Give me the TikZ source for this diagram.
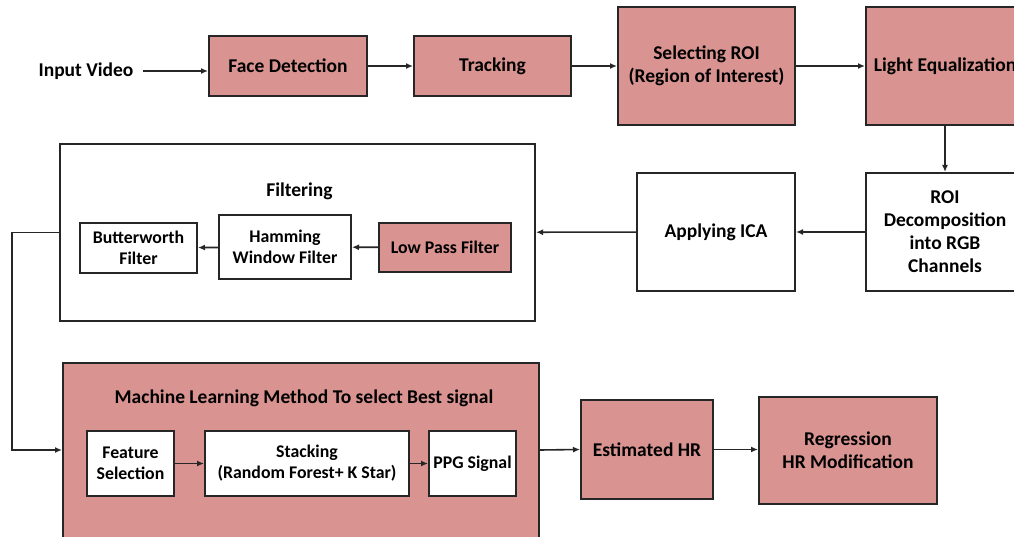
\documentclass[tikz,border=0pt]{standalone}
\usepackage{fontspec}
\setmainfont{Carlito}
\usetikzlibrary{arrows.meta}
\definecolor{boxpink}{RGB}{217,147,144}
\definecolor{edge}{RGB}{38,38,38}
\tikzset{
  bigfont/.style={font=\fontsize{19.5}{23}\selectfont\bfseries},
  smallfont/.style={font=\fontsize{17.8}{21}\selectfont\bfseries},
  pinkbox/.style={draw=edge, line width=2pt, fill=boxpink, align=center, inner sep=0pt, bigfont},
  whitebox/.style={draw=edge, line width=2pt, fill=white, align=center, inner sep=0pt, bigfont},
  label/.style={align=center, inner sep=0pt, bigfont},
  arr/.style={draw=edge, line width=1.6pt, -{Latex[length=7pt,width=6pt]}},
  conn/.style={draw=edge, line width=1.6pt}
}
\begin{document}
\begin{tikzpicture}[x=1pt,y=-1pt]
\useasboundingbox (0,0) rectangle (1014,537);
\clip (0,0) rectangle (1014,537);
\fill[white] (0,0) rectangle (1014,537);
% top row
\node[label] (in) at (86,71) {Input Video};
\node[pinkbox, minimum width=158pt, minimum height=60pt] (face) at (288,66) {Face Detection};
\node[pinkbox, minimum width=157pt, minimum height=60pt] (track) at (492.5,66) {Tracking};
\node[pinkbox, minimum width=177pt, minimum height=118pt] (roi) at (706.5,66) {Selecting ROI\\(Region of Interest)};
\node[pinkbox, minimum width=158pt, minimum height=118pt] (light) at (945,66) {Light Equalization};
% second row
\node[whitebox, minimum width=158pt, minimum height=118pt] (decomp) at (945,232) {ROI\\Decomposition\\into RGB\\Channels};
\node[whitebox, minimum width=158pt, minimum height=118pt] (ica) at (716,232) {Applying ICA};
\node[whitebox, minimum width=475pt, minimum height=177pt] (filt) at (297.5,232.5) {};
\node[label] (filttitle) at (299.5,191) {Filtering};
\node[whitebox, smallfont, minimum width=117pt, minimum height=50pt] (butter) at (138.5,248) {Butterworth\\Filter};
\node[whitebox, smallfont, minimum width=132pt, minimum height=64pt] (hamm) at (285,247) {Hamming\\Window Filter};
\node[pinkbox, smallfont, minimum width=132pt, minimum height=49pt] (lpf) at (445,247.5) {Low Pass Filter};
% third row
\node[pinkbox, minimum width=476pt, minimum height=240pt] (ml) at (301,483) {};
\node[label] (mltitle) at (304,398) {Machine Learning Method To select Best signal};
\node[whitebox, smallfont, minimum width=87pt, minimum height=65pt] (feat) at (130.5,463.5) {Feature\\Selection};
\node[whitebox, smallfont, minimum width=204pt, minimum height=65pt] (stack) at (307,463.5) {Stacking\\(Random Forest+ K Star)};
\node[whitebox, smallfont, minimum width=87pt, minimum height=65pt] (ppg) at (472.5,463.5) {PPG Signal};
\node[pinkbox, minimum width=132pt, minimum height=99pt] (est) at (647,449.5) {Estimated HR};
\node[pinkbox, minimum width=178pt, minimum height=107pt] (reg) at (848,450.5) {Regression\\HR Modification};
\coordinate (c1) at (12,450);
% connectors
\draw[arr, shorten <=9pt] (in.east) -- (in.east -| face.west);
\draw[arr] (face) -- (track);
\draw[arr] (track) -- (roi);
\draw[arr] (roi) -- (light);
\draw[arr] (light) -- (decomp);
\draw[arr] (decomp) -- (ica);
\draw[arr] (ica) -- (filt);
\draw[arr] (lpf) -- (hamm);
\draw[arr] (hamm) -- (butter);
\draw[arr] (filt.west) -| (c1) -- (c1 -| ml.west);
\draw[arr] (feat) -- (stack);
\draw[arr] (stack) -- (ppg);
\draw[arr] (ml.east |- c1) -- (est.west);
\draw[arr] (est.east) -- (est.east -| reg.west);
\end{tikzpicture}
\end{document}
